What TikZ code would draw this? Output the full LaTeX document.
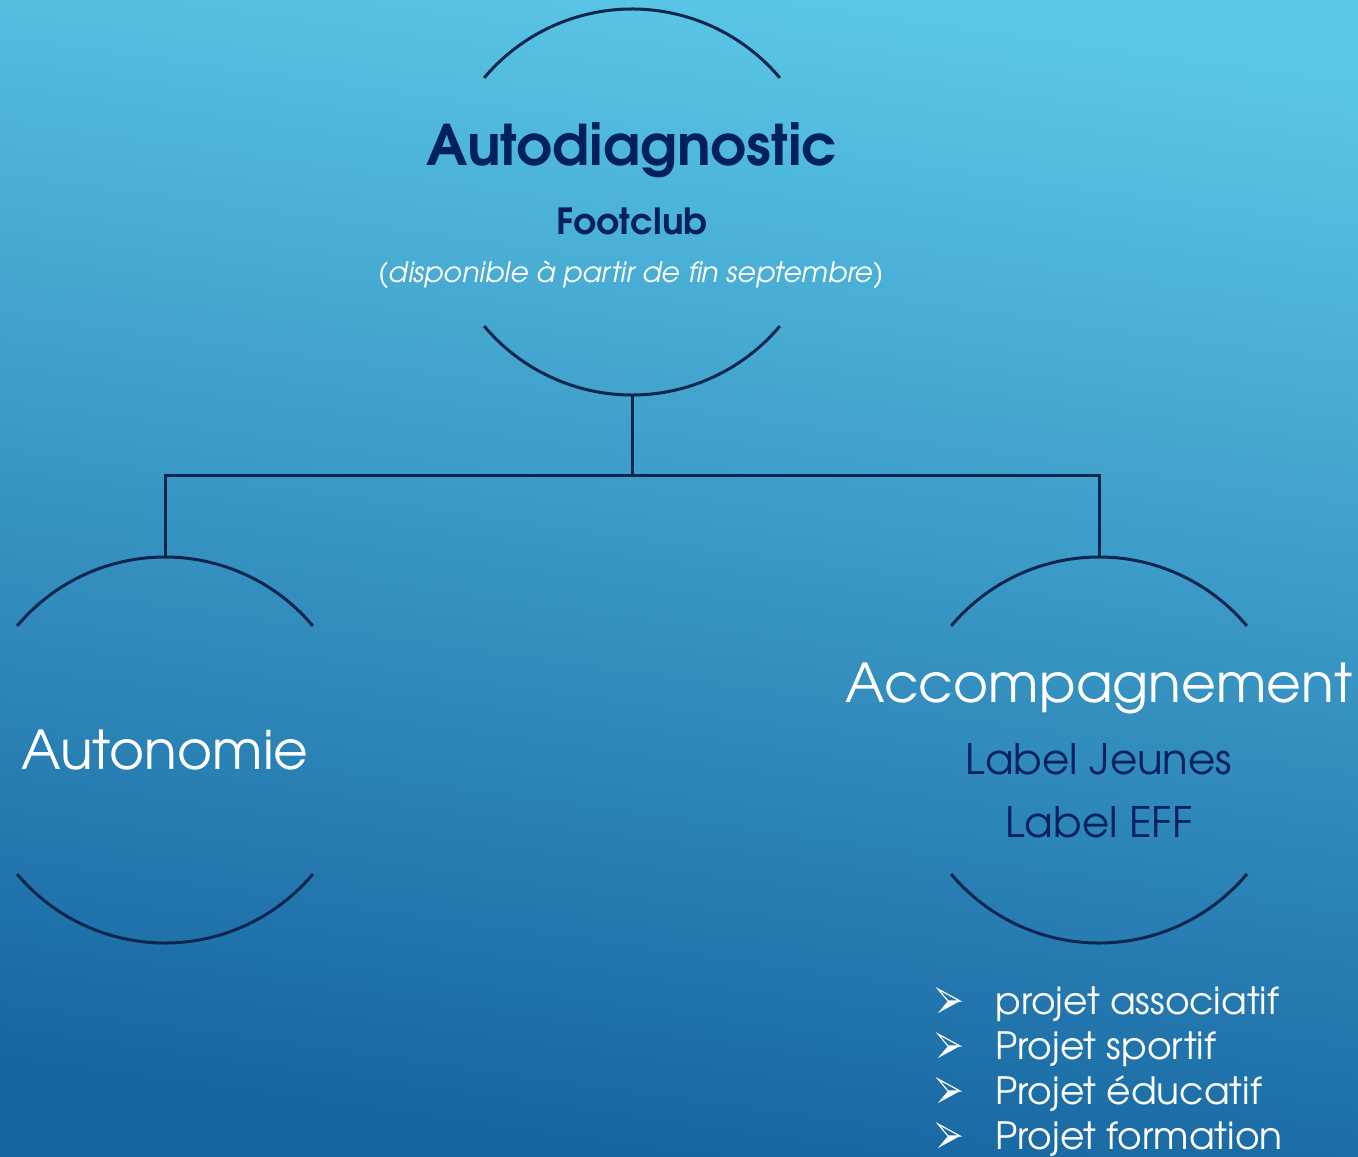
\documentclass[tikz,border=0pt]{standalone}
\usepackage{fontspec}
\setmainfont{texgyreadventor}[Extension=.otf, UprightFont=*-regular, BoldFont=*-bold, ItalicFont=*-italic, BoldItalicFont=*-bolditalic]
\usetikzlibrary{positioning}
\definecolor{bgtop}{RGB}{90,198,230}
\definecolor{bgbot}{RGB}{22,100,160}
\definecolor{navytext}{RGB}{0,32,96}
\definecolor{arcline}{RGB}{12,38,80}
\tikzset{
  bubble/.style={circle, minimum size=193pt, inner sep=0pt, outer sep=0pt},
  arcpart/.style={arcline, line width=1.5pt},
  navylabel/.style={navytext, anchor=base, inner sep=0pt},
  whitelabel/.style={white, anchor=base, inner sep=0pt},
  puce/.pic={
    \draw[white, line width=0.6pt, line join=miter] (-11,-12) -- (11,0) -- (-1,0) -- cycle;
    \fill[white] (-1,0) -- (11,0) -- (-11,12) -- cycle;
  }
}

\begin{document}
\begin{tikzpicture}[x=0.5pt, y=-0.5pt]
  \useasboundingbox (0,0) rectangle (1358,1156);
  \shade[top color=bgtop, bottom color=bgbot, shading angle=-8] (0,0) rectangle (1358,1156);
  % bubbles
  \node[bubble] (auto) at (632,202) {};
  \node[bubble] (autonomie) at (165,750) {};
  \node[bubble] (accomp) at (1099,750) {};
  \foreach \n in {auto, autonomie, accomp} {
    \draw[arcpart] (\n.40) arc[start angle=40, end angle=140, radius=96.5pt];
    \draw[arcpart] (\n.220) arc[start angle=220, end angle=320, radius=96.5pt];
  }
  \coordinate (hub) at (632,475);
  \draw[arcpart] (auto.south) -- (hub);
  \draw[arcpart] (autonomie.north) |- (hub) -| (accomp.north);
  % texts
  \node[navylabel, font=\bfseries\fontsize{28}{30}\selectfont] (titre) at (632,165) {Autodiagnostic};
  \node[navylabel, font=\bfseries\fontsize{18}{20}\selectfont] (sous) at (632,234) {Footclub};
  \node[whitelabel, font=\itshape\fontsize{14.1}{16}\selectfont] (dispo) at (631,282) {(disponible à partir de fin septembre)};
  \node[whitelabel, font=\fontsize{26.8}{28}\selectfont] (tautonomie) at (165,769) {Autonomie};
  \node[whitelabel, font=\fontsize{26.8}{28}\selectfont] (taccomp) at (1099,702) {Accompagnement};
  \node[navylabel, font=\fontsize{21}{23}\selectfont] (jeunes) at (1099,774) {Label Jeunes};
  \node[navylabel, font=\fontsize{21}{23}\selectfont] (eff) at (1099,837) {Label EFF};
  \foreach \t [count=\i] in {projet associatif, Projet sportif, Projet éducatif, Projet formation} {
    \pgfmathsetmacro{\yb}{1014 + (\i-1)*45}
    \pic at (949,\yb-13) {puce};
    \node[white, anchor=base west, inner sep=0pt, font=\fontsize{18.8}{20}\selectfont] (item\i) at (995,\yb) {\t};
  }
\end{tikzpicture}
\end{document}
